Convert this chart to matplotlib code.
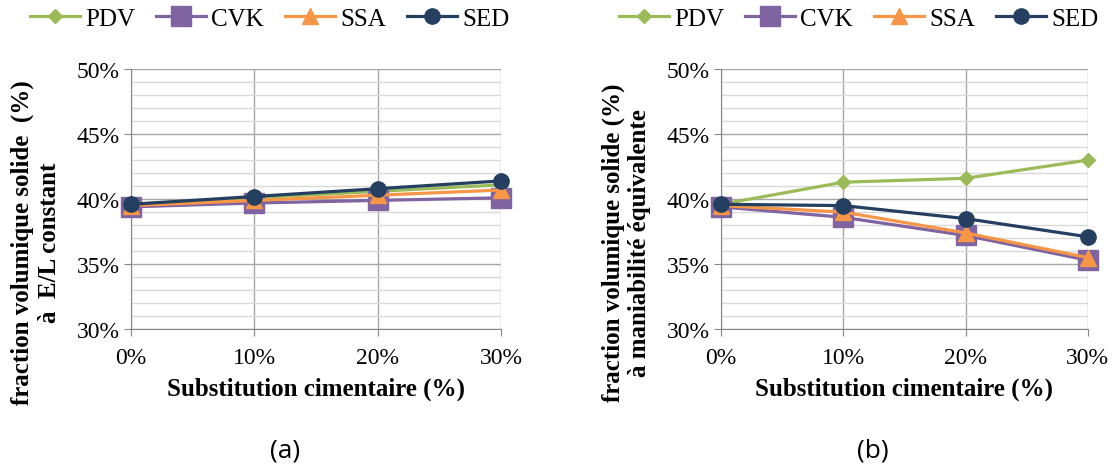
import numpy as np
import matplotlib.pyplot as plt
from matplotlib.ticker import MultipleLocator, FuncFormatter

# substitution levels (%)
substitution = [0, 10, 20, 30]
xtick_labels = ["0%", "10%", "20%", "30%"]

# (a) solid volume fraction at constant W/B (%)
pdv_a = [39.6, 40.1, 40.6, 41.1]
cvk_a = [39.4, 39.7, 39.9, 40.1]
ssa_a = [39.5, 39.9, 40.3, 40.7]
sed_a = [39.6, 40.2, 40.8, 41.4]

# (b) solid volume fraction at equivalent workability (%)
pdv_b = [39.6, 41.3, 41.6, 43.0]
cvk_b = [39.4, 38.6, 37.2, 35.3]
ssa_b = [39.5, 39.0, 37.4, 35.5]
sed_b = [39.6, 39.5, 38.5, 37.1]

series_names = ["PDV", "CVK", "SSA", "SED"]
colors = ["#9BBB59", "#8064A2", "#F79646", "#243F60"]
markers = ["D", "s", "^", "o"]
msizes = [7, 14, 11, 11]

serif = ["Liberation Serif", "DejaVu Serif"]


def draw_panel(ax, data, ylabel, tag):
    for vals, name, c, m, ms in zip(data, series_names, colors, markers, msizes):
        ax.plot(substitution, vals, color=c, marker=m, markersize=ms, lw=2.3,
                label=name, clip_on=False, zorder=3)
    ax.set_xlim(0, 30)
    ax.set_ylim(30, 50)
    ax.set_xticks(substitution)
    ax.set_xticklabels(xtick_labels)
    ax.yaxis.set_major_locator(MultipleLocator(5))
    ax.yaxis.set_minor_locator(MultipleLocator(1))
    ax.yaxis.set_major_formatter(FuncFormatter(lambda v, p: "%d%%" % v))
    ax.grid(which="major", axis="y", color="#A6A6A6", lw=1.0)
    ax.grid(which="minor", axis="y", color="#D9D9D9", lw=1.0)
    ax.grid(which="major", axis="x", color="#A6A6A6", lw=1.0)
    ax.set_axisbelow(True)
    for s in ["top", "right"]:
        ax.spines[s].set_visible(False)
    for s in ["left", "bottom"]:
        ax.spines[s].set_color("#868686")
    ax.tick_params(which="major", direction="out", length=5, color="#868686",
                   labelsize=17, pad=3)
    ax.tick_params(which="minor", length=0)
    ax.tick_params(axis="x", pad=8)
    for lab in ax.get_xticklabels() + ax.get_yticklabels():
        lab.set_family(serif)
    ax.set_ylabel(ylabel, family=serif, fontsize=18, fontweight="bold",
                  linespacing=1.2)
    ax.yaxis.set_label_coords(-0.19, 0.335)
    ax.set_xlabel("Substitution cimentaire (%)", family=serif, fontsize=18,
                  fontweight="bold", labelpad=6)
    ax.legend(loc="center", bbox_to_anchor=(0.375, 1.195), ncol=4,
              frameon=False, prop={"family": serif, "size": 18},
              handlelength=2.0, handletextpad=0.2, columnspacing=0.85)
    ax.text(0.415, -0.465, tag, transform=ax.transAxes, fontsize=19,
            family=["Open Sans", "DejaVu Sans"], ha="center", va="center")


fig = plt.figure(figsize=(11.15, 4.77), dpi=100)
ax1 = fig.add_axes([0.1175, 0.308, 0.332, 0.545])
ax2 = fig.add_axes([0.6466, 0.308, 0.329, 0.545])

draw_panel(ax1, [pdv_a, cvk_a, ssa_a, sed_a],
           "fraction volumique solide  (%)\nà  E/L constant", "(a)")
draw_panel(ax2, [pdv_b, cvk_b, ssa_b, sed_b],
           "fraction volumique solide (%)\nà maniabilité équivalente", "(b)")

fig.savefig("out.png", dpi=100)
